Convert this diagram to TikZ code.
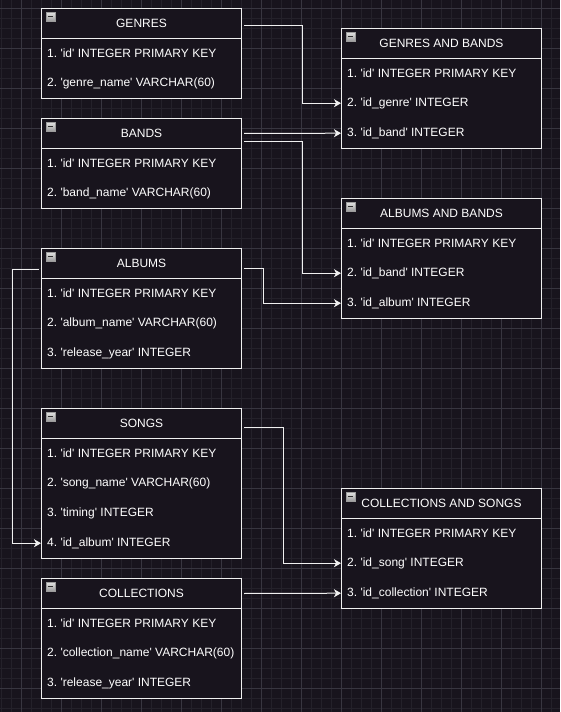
\documentclass[tikz,border=0pt]{standalone}
\usepackage{fontspec}
\setmainfont{Liberation Sans}[Ligatures=TeXOff]
\usetikzlibrary{arrows.meta,calc}
\frenchspacing
\definecolor{bgc}{HTML}{18141D}
\definecolor{gridminor}{HTML}{24212A}
\definecolor{gridmajor}{HTML}{383640}
\definecolor{linec}{HTML}{F0F0F0}
\definecolor{icontop}{HTML}{E4E4E4}
\definecolor{iconbot}{HTML}{9C9C9C}
\definecolor{icondash}{HTML}{2E2E2E}
\tikzset{
  hdr/.style={draw=linec, fill=bgc, line width=1pt, minimum width=200pt, minimum height=30pt,
    inner sep=0pt, anchor=north west, text=white, font=\fontsize{12}{14}\selectfont},
  rowtxt/.style={minimum height=30pt, minimum width=200pt, inner xsep=6pt, inner ysep=0pt,
    anchor=north west, text=white, font=\fontsize{12}{14}\selectfont},
  bodybox/.style={draw=linec, fill=bgc, line width=1pt},
  conn/.style={draw=linec, line width=1pt, shorten <=2pt, -{Stealth[length=7pt,width=8pt,inset=2pt]}},
  iconbox/.style={top color=icontop, bottom color=iconbot, draw=iconbot, line width=0.5pt},
  icondashline/.style={draw=icondash, line width=1.6pt}
}
% #1 name, #2 x, #3 y, #4 title, #5 number of rows, #6 rows
\newcommand\ertable[6]{%
  \filldraw[bodybox] (#2,#3) rectangle ({#2+200},{#3+30+30*#5});
  \node[hdr] (#1) at (#2,#3) {#4};
  \shade[iconbox] ({#2+5},{#3+4}) rectangle ({#2+14},{#3+13});
  \draw[icondashline] ({#2+7},{#3+8.5}) -- ({#2+12},{#3+8.5});
  \foreach \t [count=\i] in {#6} {
    \node[rowtxt] (#1-\i) at (#2,{#3+30*\i}) {\makebox[188pt][l]{\t}};
  }
}
\begin{document}
\begin{tikzpicture}[x=1pt,y=-1pt]
\useasboundingbox (0,0) rectangle (560,712);
\fill[bgc] (0,0) rectangle (560,712);
\foreach \x in {1,11,...,551} \draw[gridminor, line width=0.8pt] (\x,0) -- (\x,712);
\foreach \y in {8,18,...,708} \draw[gridminor, line width=0.8pt] (0,\y) -- (560,\y);
\foreach \x in {21,61,...,541} \draw[gridmajor, line width=0.8pt] (\x,0) -- (\x,712);
\foreach \y in {8,48,...,688} \draw[gridmajor, line width=0.8pt] (0,\y) -- (560,\y);

\ertable{genres}{41}{8}{GENRES}{2}{1. 'id' INTEGER PRIMARY KEY, 2. 'genre\_name' VARCHAR(60)}
\ertable{bands}{41}{118}{BANDS}{2}{1. 'id' INTEGER PRIMARY KEY, 2. 'band\_name' VARCHAR(60)}
\ertable{albums}{41}{248}{ALBUMS}{3}{1. 'id' INTEGER PRIMARY KEY, 2. 'album\_name' VARCHAR(60), 3. 'release\_year' INTEGER}
\ertable{songs}{41}{408}{SONGS}{4}{1. 'id' INTEGER PRIMARY KEY, 2. 'song\_name' VARCHAR(60), 3. 'timing' INTEGER, 4. 'id\_album' INTEGER}
\ertable{collections}{41}{578}{COLLECTIONS}{3}{1. 'id' INTEGER PRIMARY KEY, 2. 'collection\_name' VARCHAR(60), 3. 'release\_year' INTEGER}
\ertable{gb}{341}{28}{GENRES AND BANDS}{3}{1. 'id' INTEGER PRIMARY KEY, 2. 'id\_genre' INTEGER, 3. 'id\_band' INTEGER}
\ertable{ab}{341}{198}{ALBUMS AND BANDS}{3}{1. 'id' INTEGER PRIMARY KEY, 2. 'id\_band' INTEGER, 3. 'id\_album' INTEGER}
\ertable{cs}{341}{488}{COLLECTIONS AND SONGS}{3}{1. 'id' INTEGER PRIMARY KEY, 2. 'id\_song' INTEGER, 3. 'id\_collection' INTEGER}

\draw[conn] ($(genres.east)+(0,2)$) -- ++(60,0) |- (gb-2.west);
\draw[conn] (bands.east) -- (gb-3.west);
\draw[conn] ($(bands.east)+(0,8)$) -- ++(60,0) |- (ab-2.west);
\draw[conn] ($(albums.east)+(0,5)$) -- ++(21,0) |- (ab-3.west);
\draw[conn] ($(albums.west)+(0,6)$) -- ++(-29,0) |- (songs-4.west);
\draw[conn] ($(songs.east)+(0,4)$) -- ++(41,0) |- (cs-2.west);
\draw[conn] (collections.east) -- (cs-3.west);
\end{tikzpicture}
\end{document}
